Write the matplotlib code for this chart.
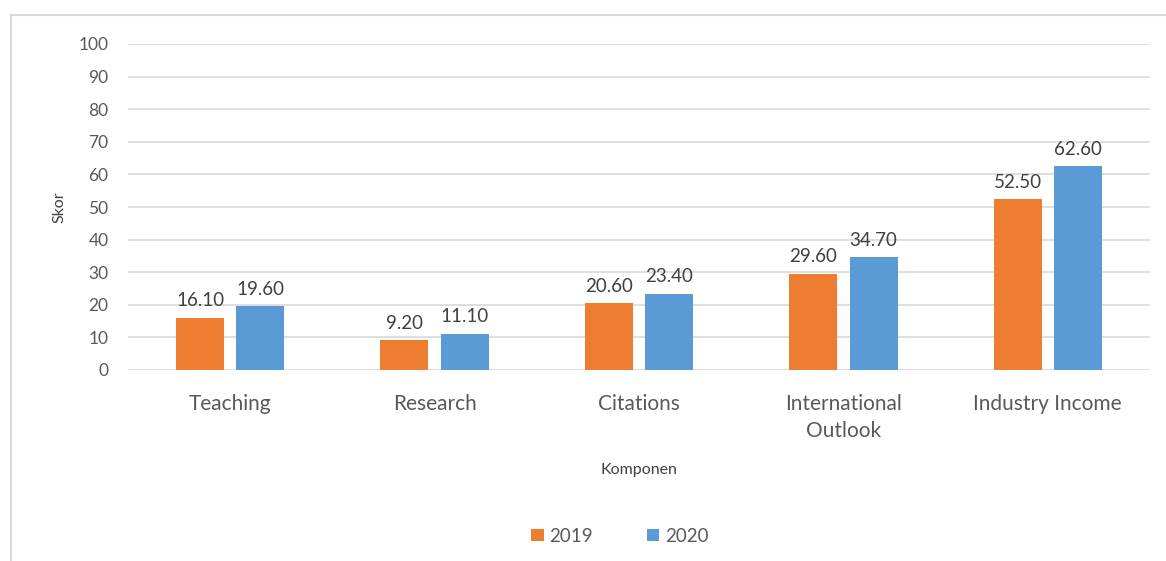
import numpy as np
import matplotlib.pyplot as plt
from matplotlib.patches import Rectangle

categories = ["Teaching", "Research", "Citations", "International\nOutlook", "Industry Income"]
skor_2019 = [16.10, 9.20, 20.60, 29.60, 52.50]
skor_2020 = [19.60, 11.10, 23.40, 34.70, 62.60]

plt.rcParams['font.family'] = ['Lato', 'DejaVu Sans']
text_col = "#595959"

W, H = 1166, 561
fig = plt.figure(figsize=(W / 100, H / 100), dpi=100)
ax = fig.add_axes([128 / W, 1 - 370 / H, (1150 - 128) / W, (370 - 44) / H])

# chart frame (Excel-style)
fig.patches.append(Rectangle((11 / W, -0.1), 1.2, 1 - 15 / H + 0.1, transform=fig.transFigure,
                             fill=False, edgecolor="#d9d9d9", linewidth=1.5))

x = np.arange(len(categories))
w = 0.235
gap = 0.06
b1 = ax.bar(x - (w + gap) / 2, skor_2019, w, color="#ED7D31", label="2019")
b2 = ax.bar(x + (w + gap) / 2, skor_2020, w, color="#5B9BD5", label="2020")

for bars in (b1, b2):
    for r in bars:
        ax.annotate(f"{r.get_height():.2f}", (r.get_x() + r.get_width() / 2, r.get_height()),
                    xytext=(0, 6), textcoords="offset points", ha="center", va="bottom",
                    fontsize=13.5, color="#404040")

ax.set_xlim(-0.5, 4.5)
ax.set_ylim(0, 100)
ax.set_yticks(range(0, 101, 10))
ax.yaxis.grid(True, color="#d9d9d9", linewidth=1.2)
ax.set_axisbelow(True)
for s in ax.spines.values():
    s.set_visible(False)
ax.tick_params(length=0)
ax.tick_params(axis="y", labelsize=12.5, labelcolor=text_col, pad=14)
ax.set_xticks(x)
ax.set_xticklabels(categories, fontsize=15, color=text_col, linespacing=1.45)
ax.tick_params(axis="x", pad=17)

ax.set_ylabel("Skor", fontsize=11.5, color="#404040", labelpad=9)
ax.set_xlabel("Komponen", fontsize=11.5, color="#404040", labelpad=16)

fig.legend(handles=[b1, b2], loc="center", bbox_to_anchor=(620 / W, 1 - 536 / H), ncol=2,
           frameon=False, fontsize=13.5, handlelength=0.65, handleheight=0.65,
           columnspacing=2.9, handletextpad=0.3, labelcolor=text_col)

fig.savefig("out.png", dpi=100)
